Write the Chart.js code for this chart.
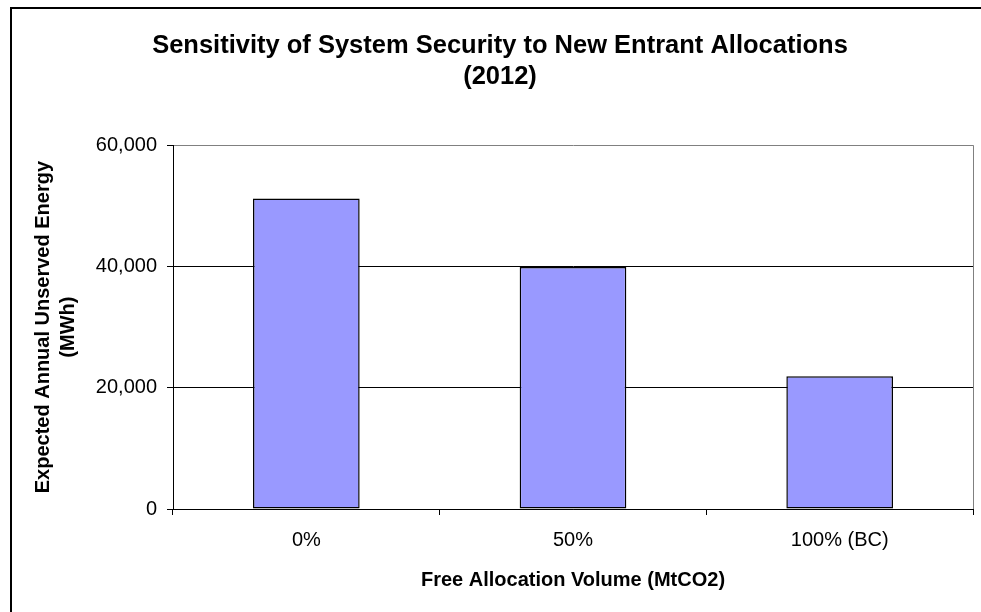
<!DOCTYPE html>
<html>
<head>
<meta charset="utf-8">
<title>Sensitivity of System Security to New Entrant Allocations (2012)</title>
<script src="https://cdn.jsdelivr.net/npm/chart.js@4/dist/chart.umd.min.js"></script>
<style>
  html, body { margin: 0; padding: 0; background: #fff; overflow: hidden; }
  .frame {
    position: absolute; left: 10px; top: 7px;
    width: 990px; height: 700px;
    border: 2px solid #000; box-sizing: border-box;
  }
  #chart { position: absolute; left: 12px; top: 9px; }
</style>
</head>
<body>
<div class="frame"></div>
<canvas id="chart" width="976" height="603"></canvas>
<script>
// data
const categories = ['0%', '50%', '100% (BC)'];
const unservedEnergy = [51200, 39900, 21900];
const yTicks = [0, 20000, 40000, 60000];

const FONT = "'Liberation Sans', Arial, sans-serif";

// grey right edge of the plot area (Excel style)
const plotFrame = {
  id: 'plotFrame',
  afterDraw(chart) {
    const { ctx, chartArea: a } = chart;
    ctx.save();
    ctx.strokeStyle = '#808080';
    ctx.lineWidth = 1;
    ctx.beginPath();
    ctx.moveTo(a.right + 0.5, a.top);
    ctx.lineTo(a.right + 0.5, a.bottom);
    ctx.stroke();
    ctx.restore();
  }
};

new Chart(document.getElementById('chart'), {
  type: 'bar',
  data: {
    labels: categories,
    datasets: [{
      data: unservedEnergy,
      backgroundColor: '#9999ff',
      borderColor: '#000000',
      borderWidth: 1.5,
      borderSkipped: false,
      categoryPercentage: 1,
      barPercentage: 0.4
    }]
  },
  options: {
    responsive: false,
    devicePixelRatio: 1,
    animation: false,
    layout: { padding: { left: 15, right: 15, top: 0, bottom: 0 } },
    plugins: {
      legend: { display: false },
      tooltip: { enabled: false },
      title: {
        display: true,
        text: ['Sensitivity of System Security to New Entrant Allocations', '(2012)'],
        color: '#000',
        font: { family: FONT, size: 25.5, weight: 'bold', lineHeight: 1.2 },
        padding: { top: 22, bottom: 53 }
      }
    },
    scales: {
      x: {
        afterFit(scale) { scale.height = 103; },
        grid: {
          offset: true,
          drawOnChartArea: false,
          drawTicks: true,
          tickLength: 6,
          tickColor: '#000'
        },
        border: { color: '#000', width: 1 },
        ticks: { color: '#000', padding: 13, font: { family: FONT, size: 20 } },
        title: {
          display: true,
          text: 'Free Allocation Volume (MtCO2)',
          color: '#000',
          font: { family: FONT, size: 20, weight: 'bold', lineHeight: 1.2 },
          padding: { top: 0, bottom: 20 }
        }
      },
      y: {
        min: 0,
        max: 60000,
        afterFit(scale) { scale.width = 146; },
        afterBuildTicks(scale) { scale.ticks = yTicks.map(v => ({ value: v })); },
        grid: {
          color: ctx => (ctx.tick && ctx.tick.value === 60000 ? '#808080' : '#000'),
          tickColor: '#000',
          tickLength: 6,
          lineWidth: 1
        },
        border: { color: '#000', width: 1 },
        ticks: {
          color: '#000',
          padding: 10,
          font: { family: FONT, size: 20 },
          callback: v => v.toLocaleString('en-US')
        },
        title: {
          display: true,
          text: ['Expected Annual Unserved Energy', '(MWh)'],
          color: '#000',
          font: { family: FONT, size: 20, weight: 'bold', lineHeight: 1.25 },
          padding: { top: 3.5, bottom: 0 }
        }
      }
    }
  },
  plugins: [plotFrame]
});
</script>
</body>
</html>
